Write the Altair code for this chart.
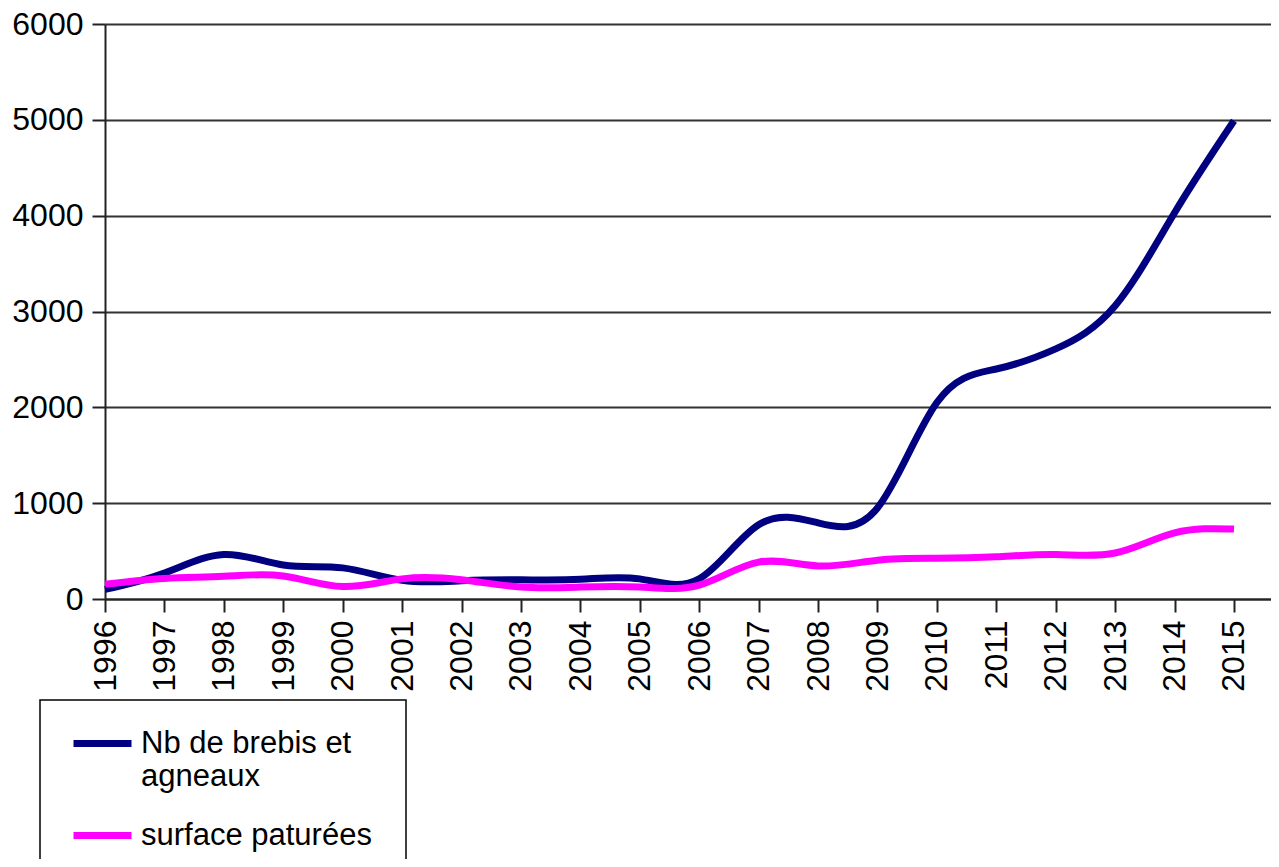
import altair as alt
import pandas as pd

# ---- data ----
years = list(range(1996, 2016))
brebis = [100, 270, 465, 355, 325, 195, 190, 200, 205, 210, 210, 775, 795, 950,
          2050, 2400, 2610, 3060, 4030, 4990]
surface = [155, 215, 237, 240, 130, 210, 200, 125, 125, 125, 145, 385, 345, 405,
           425, 440, 465, 480, 690, 730]
series_names = ["Nb de brebis et agneaux", "surface paturées"]
series_colors = ["#000080", "#FF00FF"]
y_ticks = [0, 1000, 2000, 3000, 4000, 5000, 6000]

rows = []
for name, vals in zip(series_names, [brebis, surface]):
    for yr, v in zip(years, vals):
        rows.append({"annee": yr, "valeur": v, "serie": name})
df = pd.DataFrame(rows)

FONT = "Liberation Sans"
FS = 32

label_expr = (
    "datum.label == 'Nb de brebis et agneaux' ? "
    "['Nb de brebis et', 'agneaux'] : datum.label"
)

# legend frame (decoration)
frame = alt.Chart(pd.DataFrame({"k": [0]})).mark_rect(
    fill="#fff", stroke="#000", strokeWidth=1.5
).encode(
    x=alt.value(-65), x2=alt.value(301), y=alt.value(676), y2=alt.value(900)
)

lines = alt.Chart(df).mark_line(interpolate="natural", strokeWidth=7).encode(
    x=alt.X(
        "annee:Q",
        scale=alt.Scale(domain=[1996, 2015.623], nice=False, zero=False),
        axis=alt.Axis(
            values=years, format="d", title=None, grid=False,
            labelAngle=-90, labelAlign="right", labelBaseline="middle",
            labelPadding=8, tickSize=13, tickWidth=2, tickColor="#222",
            domainColor="#222", domainWidth=2,
            labelFont=FONT, labelFontSize=FS, labelColor="#000",
        ),
    ),
    y=alt.Y(
        "valeur:Q",
        scale=alt.Scale(domain=[0, 6000], nice=False),
        axis=alt.Axis(
            values=y_ticks, format="d", title=None, grid=True,
            gridColor="#333", gridWidth=2, gridOpacity=1,
            tickSize=13, tickWidth=2, tickColor="#222",
            domainColor="#222", domainWidth=2,
            labelPadding=9, labelFont=FONT, labelFontSize=FS, labelColor="#000",
        ),
    ),
    color=alt.Color(
        "serie:N",
        scale=alt.Scale(domain=series_names, range=series_colors),
        legend=alt.Legend(
            title=None, orient="none", legendX=-35, legendY=687,
            direction="vertical", padding=0,
            symbolType="stroke", symbolSize=3364, symbolStrokeWidth=7,
            symbolOffset=0,
            labelFont=FONT, labelFontSize=31, labelColor="#000",
            labelOffset=6, labelLimit=600, rowPadding=11,
            labelExpr=label_expr,
        ),
    ),
)

chart = alt.layer(frame, lines).properties(
    width=1166,
    height=575,
    autosize=alt.AutoSizeParams(type="none"),
    padding={"left": 97, "top": 16, "right": 0, "bottom": 260},
).configure_view(stroke=None).configure(background="#fff")

chart.save("out.html", embed_options={"renderer": "svg", "actions": False})
